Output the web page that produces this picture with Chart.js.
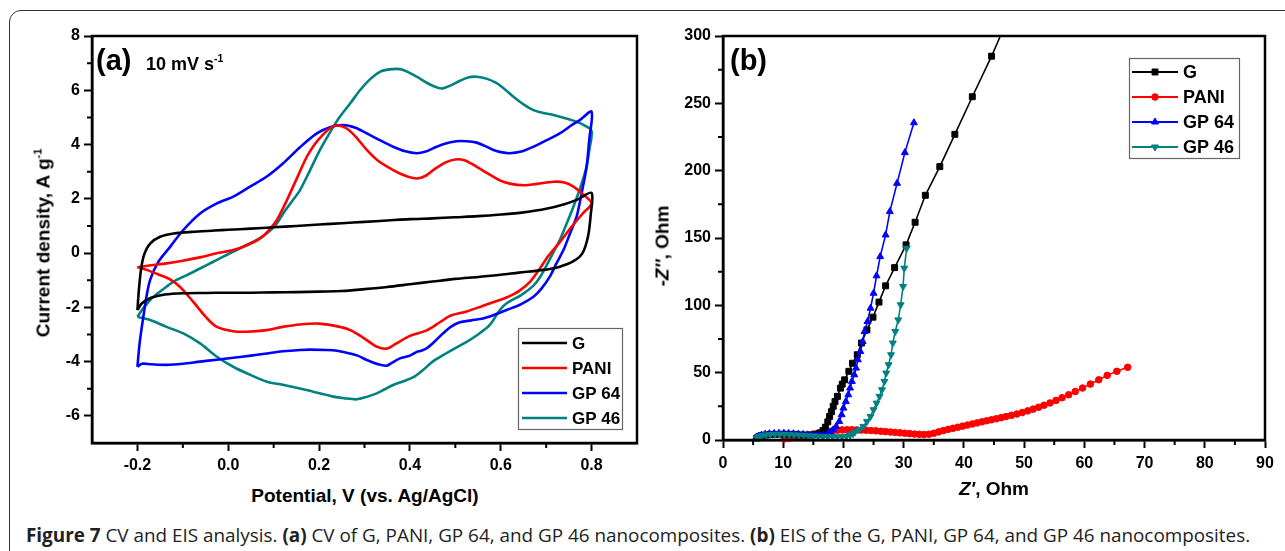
<!DOCTYPE html>
<html>
<head>
<meta charset="utf-8">
<script src="https://cdn.jsdelivr.net/npm/chart.js@4.4.1/dist/chart.umd.min.js"></script>
<style>
  html, body { margin: 0; padding: 0; background: #fff; }
  body { width: 1285px; height: 551px; position: relative; overflow: hidden;
         font-family: "Liberation Sans", Arial, sans-serif; }
  .frame { position: absolute; left: 9px; top: 10px; width: 1330px; height: 620px;
           border: 1.5px solid #333; border-radius: 12px; box-sizing: border-box; }
  canvas { position: absolute; top: 0; }
  #cvChart { left: 0; }
  #eisChart { left: 650px; }
  .lbl { position: absolute; font-weight: bold; color: #000; white-space: nowrap; line-height: 1; z-index: 2; }
  .ctr { transform: translate(-50%, -50%); }
  .rot { transform: translate(-50%, -50%) rotate(-90deg); }
  .lbl sup { font-size: 58%; vertical-align: 0; position: relative; top: -0.75em; line-height: 0; }
  #caption { position: absolute; left: 26px; top: 525px; font-family: "Open Sans", "Noto Sans", sans-serif;
             font-size: 19px; line-height: 20px; color: #222; white-space: nowrap; transform-origin: 0 0; }
</style>
</head>
<body>
<div class="frame"></div>
<canvas id="cvChart" width="650" height="480"></canvas>
<canvas id="eisChart" width="635" height="480"></canvas>

<div class="lbl" style="left:96px; top:46px; font-size:29px;">(a)</div>
<div class="lbl" style="left:146px; top:55px; font-size:18px;">10 mV s<sup>-1</sup></div>
<div class="lbl rot" style="left:43px; top:243px; font-size:19px;">Current density, A g<sup>-1</sup></div>
<div class="lbl ctr" style="left:365px; top:495px; font-size:19px;">Potential, V (vs. Ag/AgCl)</div>

<div class="lbl" style="left:730px; top:46px; font-size:29px;">(b)</div>
<div class="lbl rot" style="left:662px; top:246px; font-size:19px;">-<i>Z''</i>, Ohm</div>
<div class="lbl ctr" style="left:994px; top:488px; font-size:19px;"><i>Z'</i>, Ohm</div>

<div id="caption"><b>Figure 7</b> CV and EIS analysis. <b>(a)</b> CV of G, PANI, GP 64, and GP 46 nanocomposites. <b>(b)</b> EIS of the G, PANI, GP 64, and GP 46 nanocomposites.</div>

<script>
// ---- (a) CV loops: [potential V, current density A/g]
const cvG = [[-0.2,-2.1],[-0.197,-1.4],[-0.192,-0.6],[-0.185,-0.05],[-0.172,0.35],[-0.15,0.6],[-0.12,0.72],[-0.08,0.78],[-0.03,0.83],[0,0.86],[0.05,0.9],[0.1,0.95],[0.15,1.0],[0.2,1.05],[0.25,1.1],[0.3,1.15],[0.35,1.2],[0.4,1.25],[0.45,1.28],[0.5,1.32],[0.55,1.36],[0.6,1.42],[0.65,1.5],[0.7,1.63],[0.74,1.8],[0.77,1.98],[0.8,2.22],
  [0.798,1.4],[0.792,0.6],[0.78,0.0],[0.76,-0.3],[0.73,-0.5],[0.69,-0.63],[0.64,-0.72],[0.6,-0.8],[0.55,-0.88],[0.5,-0.95],[0.45,-1.05],[0.4,-1.15],[0.35,-1.25],[0.3,-1.33],[0.25,-1.4],[0.2,-1.42],[0.15,-1.44],[0.1,-1.45],[0.05,-1.46],[0,-1.46],[-0.05,-1.47],[-0.1,-1.48],[-0.14,-1.53],[-0.17,-1.65],[-0.19,-1.85],[-0.2,-2.1]];
const cvPANI = [[-0.2,-0.52],[-0.17,-0.45],[-0.136,-0.38],[-0.1,-0.28],[-0.06,-0.15],[-0.026,-0.01],[0.011,0.11],[0.04,0.28],[0.07,0.54],[0.09,0.85],[0.107,1.22],[0.122,1.7],[0.136,2.2],[0.155,2.9],[0.173,3.55],[0.19,4.0],[0.205,4.3],[0.224,4.6],[0.24,4.7],[0.26,4.6],[0.28,4.3],[0.305,3.8],[0.33,3.4],[0.363,3.06],[0.39,2.85],[0.415,2.75],[0.435,2.85],[0.455,3.1],[0.48,3.35],[0.5,3.45],[0.52,3.42],[0.54,3.25],[0.57,2.95],[0.598,2.68],[0.62,2.56],[0.65,2.5],[0.68,2.55],[0.716,2.63],[0.74,2.6],[0.76,2.45],[0.782,2.15],[0.8,1.83],
  [0.78,1.45],[0.755,0.95],[0.73,0.4],[0.705,-0.1],[0.685,-0.6],[0.665,-1.05],[0.64,-1.4],[0.615,-1.62],[0.598,-1.73],[0.56,-1.95],[0.525,-2.15],[0.49,-2.3],[0.466,-2.55],[0.437,-2.85],[0.4,-3.05],[0.37,-3.33],[0.35,-3.52],[0.327,-3.45],[0.3,-3.15],[0.27,-2.85],[0.246,-2.72],[0.2,-2.6],[0.158,-2.63],[0.12,-2.72],[0.085,-2.84],[0.04,-2.9],[0.011,-2.88],[-0.025,-2.72],[-0.047,-2.4],[-0.077,-1.8],[-0.106,-1.25],[-0.13,-0.95],[-0.155,-0.78],[-0.18,-0.62],[-0.2,-0.52]];
const cvGP64 = [[-0.2,-4.19],[-0.195,-3.3],[-0.187,-2.35],[-0.18,-1.6],[-0.172,-0.99],[-0.155,-0.35],[-0.128,0.23],[-0.099,0.85],[-0.062,1.46],[-0.025,1.83],[0.011,2.08],[0.048,2.45],[0.085,2.82],[0.121,3.31],[0.158,3.9],[0.195,4.41],[0.224,4.64],[0.253,4.72],[0.28,4.62],[0.305,4.41],[0.335,4.15],[0.363,3.92],[0.39,3.75],[0.415,3.68],[0.435,3.74],[0.451,3.86],[0.475,4.02],[0.503,4.12],[0.525,4.12],[0.547,4.07],[0.565,3.95],[0.584,3.8],[0.6,3.72],[0.62,3.68],[0.645,3.74],[0.672,3.92],[0.7,4.15],[0.73,4.41],[0.755,4.7],[0.774,4.9],[0.8,5.21],
  [0.795,4.2],[0.789,3.18],[0.778,2.2],[0.767,1.34],[0.752,0.7],[0.738,0.11],[0.722,-0.4],[0.708,-0.87],[0.69,-1.3],[0.672,-1.61],[0.645,-1.88],[0.613,-2.1],[0.585,-2.28],[0.561,-2.41],[0.535,-2.48],[0.51,-2.55],[0.49,-2.72],[0.473,-2.96],[0.455,-3.25],[0.437,-3.51],[0.425,-3.6],[0.415,-3.64],[0.4,-3.78],[0.378,-3.88],[0.36,-4.05],[0.349,-4.15],[0.33,-4.1],[0.305,-3.94],[0.285,-3.78],[0.268,-3.7],[0.24,-3.6],[0.217,-3.57],[0.18,-3.56],[0.158,-3.57],[0.12,-3.62],[0.085,-3.7],[0.05,-3.78],[0.011,-3.86],[-0.025,-3.93],[-0.062,-4.0],[-0.1,-4.08],[-0.136,-4.12],[-0.17,-4.1],[-0.19,-4.08],[-0.2,-4.19]];
const cvGP46 = [[-0.2,-2.35],[-0.19,-2.1],[-0.172,-1.73],[-0.155,-1.48],[-0.136,-1.24],[-0.115,-1.0],[-0.091,-0.81],[-0.06,-0.55],[-0.033,-0.32],[-0.01,-0.12],[0.011,0.05],[0.04,0.3],[0.065,0.5],[0.085,0.73],[0.105,1.05],[0.121,1.46],[0.14,1.9],[0.158,2.32],[0.18,3.05],[0.202,3.8],[0.224,4.45],[0.246,5.03],[0.27,5.55],[0.29,6.0],[0.312,6.4],[0.334,6.68],[0.355,6.77],[0.378,6.78],[0.395,6.68],[0.415,6.5],[0.44,6.25],[0.46,6.1],[0.473,6.07],[0.49,6.18],[0.51,6.35],[0.53,6.48],[0.547,6.5],[0.57,6.42],[0.591,6.26],[0.61,6.02],[0.628,5.76],[0.65,5.48],[0.672,5.27],[0.695,5.16],[0.716,5.09],[0.74,4.98],[0.767,4.84],[0.785,4.7],[0.8,4.5],
  [0.795,3.8],[0.789,3.18],[0.775,2.4],[0.76,1.71],[0.745,1.08],[0.73,0.48],[0.715,0.0],[0.701,-0.45],[0.686,-0.9],[0.672,-1.2],[0.645,-1.55],[0.613,-1.85],[0.598,-2.1],[0.576,-2.65],[0.55,-3.0],[0.525,-3.27],[0.5,-3.5],[0.473,-3.76],[0.45,-4.0],[0.429,-4.31],[0.41,-4.55],[0.393,-4.68],[0.363,-4.86],[0.345,-5.02],[0.327,-5.17],[0.305,-5.3],[0.283,-5.39],[0.255,-5.35],[0.231,-5.29],[0.21,-5.2],[0.187,-5.11],[0.158,-4.99],[0.12,-4.85],[0.085,-4.74],[0.05,-4.5],[0.011,-4.19],[-0.025,-3.82],[-0.062,-3.33],[-0.099,-2.96],[-0.136,-2.72],[-0.172,-2.47],[-0.2,-2.35]];

// ---- (b) EIS: [Z' Ohm, -Z'' Ohm]
const eisG = [[5.6,1.5],[6.0,2.5],[6.5,3.2],[7.1,3.7],[7.8,4.0],[8.6,4.2],[9.5,4.3],[10.4,4.3],[11.3,4.2],[12.2,4.0],[13.0,3.8],[13.8,3.7],[14.5,3.7],[15.1,3.9],[15.6,4.3],[16.1,5.2],[16.6,7.0],[17.0,9.5],[17.4,13.5],[17.7,17.5],[18.0,21],[18.3,25],[18.6,28.5],[19.0,32.4],[19.5,38.5],[19.8,41.5],[20.2,44.7],[20.9,51],[21.5,57],[22.3,63.3],[23.0,72],[23.9,81.8],[24.9,91.2],[25.9,102.4],[27.0,114.5],[28.5,128],[30.4,144.9],[31.9,161.7],[33.6,181.7],[36.0,203],[38.5,227],[41.4,254.9],[44.6,285],[47.8,318]];
const eisPANI = [[10.2,0.8],[11.0,1.2],[11.8,1.7],[12.6,2.3],[13.4,3.0],[14.2,3.7],[15.0,4.4],[15.8,5.1],[16.6,5.8],[17.4,6.4],[18.2,6.9],[19.0,7.3],[19.8,7.5],[20.6,7.6],[21.4,7.6],[22.2,7.5],[23.0,7.4],[23.8,7.2],[24.6,7.0],[25.4,6.8],[26.2,6.5],[27.0,6.2],[27.8,5.9],[28.6,5.6],[29.4,5.3],[30.2,5.0],[31.0,4.7],[31.8,4.4],[32.6,4.2],[33.4,4.1],[34.2,4.3],[35.0,5.0],[35.8,6.0],[36.6,7.0],[37.4,7.9],[38.2,8.7],[39.0,9.5],[39.8,10.3],[40.6,11.1],[41.4,11.9],[42.2,12.7],[43.0,13.5],[43.8,14.3],[44.6,15.0],[45.4,15.8],[46.2,16.6],[47.0,17.4],[47.9,18.3],[48.8,19.3],[49.7,20.4],[50.6,21.6],[51.5,22.9],[52.4,24.3],[53.3,25.8],[54.3,27.5],[55.3,29.4],[56.3,31.4],[57.4,33.6],[58.5,36.0],[59.7,38.6],[61.0,41.5],[62.4,44.7],[63.8,48.0],[65.4,51.0],[67.2,54.0]];
const eisGP64 = [[5.5,1.8],[5.9,2.9],[6.4,3.7],[7.0,4.3],[7.7,4.7],[8.5,4.9],[9.3,5.0],[10.1,5.0],[10.9,4.9],[11.7,4.7],[12.5,4.4],[13.3,4.1],[14.0,3.8],[14.7,3.6],[15.4,3.4],[16.0,3.3],[16.6,3.3],[17.1,3.6],[17.5,4.4],[17.8,5.6],[18.3,7.6],[18.8,10],[19.3,13.8],[19.7,18.8],[20.0,23.7],[20.4,28.6],[20.8,33.6],[21.1,38.6],[21.4,43.5],[21.8,48.4],[22.1,53.4],[22.4,59.6],[22.8,65.7],[23.2,73.1],[23.5,80.6],[24.0,88],[24.5,97.9],[25.0,109],[25.5,121.9],[26.1,136.2],[27.0,152.3],[27.7,169.6],[28.9,190.6],[30.2,213.4],[31.7,235.6]];
const eisGP46 = [[5.6,1.6],[6.0,2.6],[6.5,3.3],[7.1,3.8],[7.8,4.1],[8.6,4.3],[9.4,4.3],[10.2,4.2],[11.0,4.0],[11.8,3.8],[12.6,3.6],[13.4,3.4],[14.2,3.2],[15.0,3.0],[15.8,2.8],[16.6,2.6],[17.4,2.5],[18.2,2.4],[19.0,2.4],[19.8,2.5],[20.5,2.9],[21.1,3.6],[21.6,4.6],[21.9,5.9],[22.6,7.6],[23.3,10.1],[23.9,13.8],[24.5,17.5],[25.0,22.5],[25.5,27.4],[26.0,32.4],[26.4,37.3],[26.8,43.5],[27.1,49.7],[27.5,55.9],[27.9,63.3],[28.2,72],[28.6,80.6],[29.1,89.2],[29.5,100.4],[29.9,114],[30.1,127.6],[30.5,142.4]];

// tick labels (major ticks), minor ones are drawn unlabeled in between
const cvXMajor = [-0.2, 0, 0.2, 0.4, 0.6, 0.8];
const cvYMajor = [-6, -4, -2, 0, 2, 4, 6, 8];
const eisXMajor = [0, 10, 20, 30, 40, 50, 60, 70, 80, 90];
const eisYMajor = [0, 50, 100, 150, 200, 250, 300];

const seriesNames = ['G', 'PANI', 'GP 64', 'GP 46'];
const seriesColors = ['#000000', '#ff0000', '#0000ff', '#008080'];

Chart.defaults.font.family = '"Liberation Sans", Arial, sans-serif';
Chart.defaults.color = '#000';

const isMajor = (list, v) => list.some(m => Math.abs(m - v) < 1e-6);

function makeAxis(min, max, step, major, fmt, pad, fit) {
    return {
        type: 'linear',
        min: min,
        max: max,
        ticks: {
            stepSize: step,
            autoSkip: false,
            padding: pad,
            color: '#000',
            font: { size: 16, weight: 'bold' },
            callback: (v) => (isMajor(major, v) ? fmt(v) : ''),
        },
        grid: {
            drawOnChartArea: false,
            drawTicks: true,
            tickLength: 8,
            tickWidth: 2,
            tickColor: (c) => (c.tick && isMajor(major, c.tick.value) ? '#000' : 'rgba(0,0,0,0)'),
        },
        border: { display: true, color: '#000', width: 2.5 },
        afterFit: fit,
    };
}

// minor ticks + closed box round the plot
const frameTicks = {
    id: 'frameTicks',
    afterDraw(chart, args, o) {
        const { ctx, chartArea: a } = chart;
        const xs = chart.scales.x, ys = chart.scales.y;
        ctx.save();
        ctx.strokeStyle = '#000';
        ctx.lineWidth = 2;
        ctx.beginPath();
        xs.ticks.forEach((t) => {
            if (isMajor(o.xMajor, t.value)) return;
            const px = xs.getPixelForValue(t.value);
            if (px < a.left + 2 || px > a.right - 2) return;
            ctx.moveTo(px, a.bottom);
            ctx.lineTo(px, a.bottom + 5);
        });
        ys.ticks.forEach((t) => {
            if (isMajor(o.yMajor, t.value)) return;
            const py = ys.getPixelForValue(t.value);
            if (py < a.top + 2 || py > a.bottom - 2) return;
            ctx.moveTo(a.left, py);
            ctx.lineTo(a.left - 5, py);
        });
        ctx.stroke();
        ctx.lineWidth = 2.5;
        ctx.strokeRect(a.left, a.top, a.right - a.left, a.bottom - a.top);
        ctx.restore();
    },
};

// legend box placed inside the plot
const boxLegend = {
    id: 'boxLegend',
    afterDraw(chart, args, o) {
        const ctx = chart.ctx;
        ctx.save();
        ctx.fillStyle = '#fff';
        ctx.fillRect(o.x, o.y, o.w, o.h);
        ctx.strokeStyle = '#666';
        ctx.lineWidth = 1.2;
        ctx.strokeRect(o.x + 0.5, o.y + 0.5, o.w, o.h);
        ctx.font = 'bold ' + o.size + 'px "Liberation Sans", Arial, sans-serif';
        ctx.textBaseline = 'middle';
        chart.data.datasets.forEach((ds, i) => {
            const cy = o.y + o.first + i * o.row;
            ctx.strokeStyle = ds.borderColor;
            ctx.lineWidth = o.lineWidth;
            ctx.beginPath();
            ctx.moveTo(o.x + o.lineStart, cy);
            ctx.lineTo(o.x + o.lineEnd, cy);
            ctx.stroke();
            if (o.markers) {
                ctx.fillStyle = ds.backgroundColor;
                ctx.lineWidth = 1;
                Chart.helpers.drawPoint(ctx, {
                    pointStyle: ds.pointStyle,
                    rotation: ds.pointRotation || 0,
                    radius: ds.pointRadius,
                    borderWidth: 1,
                }, o.x + (o.lineStart + o.lineEnd) / 2, cy);
            }
            ctx.fillStyle = '#000';
            ctx.fillText(ds.label, o.x + o.textX, cy + 1);
        });
        ctx.restore();
    },
};

// ---- chart (a)
const cvSets = [cvG, cvPANI, cvGP64, cvGP46];
new Chart(document.getElementById('cvChart'), {
    type: 'scatter',
    data: {
        datasets: cvSets.map((d, i) => ({
            label: seriesNames[i],
            data: d.map((p) => ({ x: p[0], y: p[1] })),
            showLine: true,
            borderColor: seriesColors[i],
            backgroundColor: seriesColors[i],
            borderWidth: 2.6,
            pointRadius: 0,
            tension: 0.3,
        })),
    },
    options: {
        responsive: false,
        animation: false,
        layout: { padding: { left: 0, top: 36, right: 13, bottom: 0 } },
        plugins: {
            legend: { display: false },
            tooltip: { enabled: false },
            frameTicks: { xMajor: cvXMajor, yMajor: cvYMajor },
            boxLegend: { x: 518, y: 328, w: 104, h: 101, first: 15, row: 25, lineStart: 4, lineEnd: 49,
                         textX: 54, size: 17, lineWidth: 2.6, markers: false },
        },
        scales: {
            x: makeAxis(-0.3, 0.9, 0.1, cvXMajor,
                (v) => (Math.abs(v) < 1e-9 ? '0.0' : v.toFixed(1)), 5, (s) => { s.height = 37; }),
            y: makeAxis(-7, 8, 1, cvYMajor, (v) => String(Math.round(v)), 4, (s) => { s.width = 92; }),
        },
    },
    plugins: [frameTicks, boxLegend],
});

// ---- chart (b)
const eisSets = [eisG, eisPANI, eisGP64, eisGP46];
const eisStyles = ['rect', 'circle', 'triangle', 'triangle'];
const eisRadius = [4.2, 3.3, 4, 4];
const eisRotation = [0, 0, 0, 180];
const eisOrder = [2, 3, 1, 0];
new Chart(document.getElementById('eisChart'), {
    type: 'scatter',
    data: {
        datasets: eisSets.map((d, i) => ({
            label: seriesNames[i],
            data: d.map((p) => ({ x: p[0], y: p[1] })),
            showLine: true,
            borderColor: seriesColors[i],
            backgroundColor: seriesColors[i],
            borderWidth: 1.6,
            pointStyle: eisStyles[i],
            pointRadius: eisRadius[i],
            pointRotation: eisRotation[i],
            pointBorderWidth: 1,
            order: eisOrder[i],
            clip: { left: 6, right: 6, top: 0, bottom: 6 },
        })),
    },
    options: {
        responsive: false,
        animation: false,
        layout: { padding: { left: 0, top: 36, right: 20, bottom: 0 } },
        plugins: {
            legend: { display: false },
            tooltip: { enabled: false },
            frameTicks: { xMajor: eisXMajor, yMajor: eisYMajor },
            boxLegend: { x: 479, y: 58, w: 110, h: 100, first: 14, row: 25, lineStart: 3, lineEnd: 49,
                         textX: 54, size: 18, lineWidth: 1.8, markers: true },
        },
        scales: {
            x: makeAxis(0, 90, 5, eisXMajor, (v) => String(Math.round(v)), 6, (s) => { s.height = 40; }),
            y: makeAxis(0, 300, 25, eisYMajor, (v) => String(Math.round(v)), 4, (s) => { s.width = 73; }),
        },
    },
    plugins: [frameTicks, boxLegend],
});

// squeeze the caption to the width it has in the figure
const cap = document.getElementById('caption');
cap.style.transform = 'scaleX(' + (1224 / cap.offsetWidth).toFixed(3) + ')';
</script>
</body>
</html>
